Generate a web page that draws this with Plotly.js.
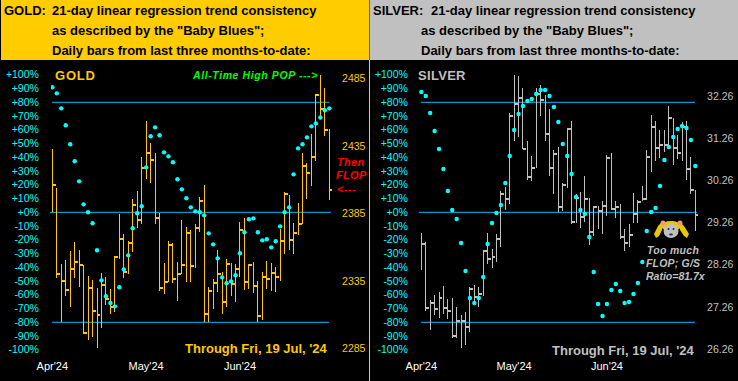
<!DOCTYPE html>
<html><head><meta charset="utf-8">
<script src="https://cdn.plot.ly/plotly-3.0.1.min.js"></script>
<style>
html,body{margin:0;padding:0;background:#000;overflow:hidden}
#c{width:738px;height:381px}
.scatterlayer .js-line{shape-rendering:crispEdges}
</style></head><body><div id="c"></div>
<script>
const monthTicks=[0,21,42];
const monthLabels=["Apr'24","May'24","Jun'24"];
const pctTicks=[100,90,80,70,60,50,40,30,20,10,0,-10,-20,-30,-40,-50,-60,-70,-80,-90,-100];
const pctLabels=["+100%","+90%","+80%","+70%","+60%","+50%","+40%","+30%","+20%","+10%","+0%","-10%","-20%","-30%","-40%","-50%","-60%","-70%","-80%","-90%","-100%"];
const goldPriceTicks=[2485,2435,2385,2335,2285];
const silverPriceTicks=[32.26,31.26,30.26,29.26,28.26,27.26,26.26];
const bandLevels=[80,0,-80];

const goldHigh=[2432.9,2404,2347.8,2350.7,2357.4,2364,2358.1,2347,2338.9,2335.9,2330,2341.1,2338.1,2329.2,2353.7,2384.8,2370,2364.8,2395.9,2401.8,2427,2453.7,2437.4,2430,2385.5,2348.5,2364.8,2363.3,2349.2,2380.3,2375.2,2373,2377.4,2397.4,2406.3,2330.7,2336.6,2358.1,2341.8,2351.5,2348.5,2347.8,2378.9,2381.8,2347.8,2349.2,2335.2,2341.8,2350,2348.5,2345.5,2373.7,2401.1,2398.9,2378.1,2392.9,2430,2422.6,2444,2473.7,2487.7,2478.1,2447.7];
const goldLow=[2386.3,2337.4,2304.8,2324.1,2315.9,2337.4,2330.7,2295.9,2291.5,2293.7,2285.5,2300.3,2317.4,2310.7,2312.2,2351.5,2337.4,2340.3,2356.6,2374.4,2377.4,2410.7,2407.7,2377.4,2327.8,2325.5,2334.4,2333.7,2320.3,2340.3,2334.4,2334.4,2344.8,2371.5,2304.8,2304.8,2314.4,2327,2310.7,2315.9,2324.1,2319.6,2338.1,2328.5,2329.2,2326.3,2304.8,2306.3,2329.2,2327.8,2327,2335.2,2355.2,2358.1,2355.2,2369.2,2377.4,2395.9,2405.5,2424,2456.6,2442.6,2395.2];
const goldClose=[2406.3,2340.3,2335.2,2328.5,2344,2349.2,2347,2296.6,2330,2312.9,2310,2332.2,2321.8,2316,2353,2366.3,2341.8,2363.3,2391.5,2380.3,2418.9,2430,2424.8,2381.8,2330,2334.4,2361.8,2336.6,2340.3,2347,2370.7,2346.3,2374.4,2394.4,2310.7,2327.8,2333.7,2340.3,2319.6,2347.8,2332.9,2344,2373,2334.4,2347,2331.5,2309.2,2338.1,2336.6,2341.1,2338.1,2364.8,2399.6,2365.5,2370.7,2377.4,2420.3,2415.2,2427,2472.9,2462.6,2447,2402.6];
const goldBlues=[90.9,86.5,75.6,63.3,49.5,37.1,22.5,5.8,0,-8,-27.6,-49.5,-61,-66,-68.4,-54.5,-41.5,-31.3,-11.6,-0.7,4.4,32.7,55.3,61.8,56,43.6,40.7,36.4,24,16.7,10.2,3.6,0.7,0,-2.2,-15.3,-23.3,-33.5,-47.3,-51.6,-50.2,-45.8,-29.8,-14.5,-5.1,-4.4,-14.5,-20.4,-19.6,-25.5,-21.1,-10.2,0,3.6,27.6,46.5,49.5,54.5,62.5,64.7,69,74.2,75.6];

const silverHigh=[29.01,28.8,27.43,27.54,27.61,27.76,27.45,27.47,27.26,27.07,27.14,27.73,27.78,27.73,28.61,29.01,28.64,28.99,30.01,30.1,31.86,32.76,32.73,32.45,31.19,30.84,32.45,32.52,32.28,31.95,30.98,31.05,30.2,31.48,31.67,29.94,29.99,30.36,29.84,29.65,29.65,29.77,30.86,30.91,29.77,29.7,29.11,29.23,29.96,29.8,30.13,30.98,31.81,31.67,31.45,31.45,32.02,31.74,31.34,31.64,31.67,30.81,30.03];
const silverLow=[28.14,27.17,26.71,27.07,27,27.09,26.97,26.52,26.52,26.29,26.36,26.67,27.31,27.26,27.52,28.28,28.18,28.33,28.68,29.56,29.7,31.19,31.29,31,30.27,30.25,30.55,31.79,31.19,30.36,29.94,29.51,29.53,30.08,29.23,29.25,29.13,29.27,28.73,28.94,29.11,28.99,29.42,29.56,29.37,28.87,28.59,28.68,29.25,29.25,29.77,29.8,30.46,30.72,30.79,30.93,31,30.62,30.77,30.72,30.27,29.94,29.06];
const silverClose=[28.75,27.24,27.35,27.21,27.47,27.24,27.17,26.57,26.93,26.93,26.79,27.69,27.5,27.57,28.59,28.4,28.44,28.87,29.94,29.82,31.79,32.07,32.21,31,30.34,30.55,32.31,32.17,31.36,30.55,30.89,29.63,30.15,31.48,29.27,29.84,29.39,29.82,29.04,29.63,29.53,29.65,30.79,29.58,29.63,28.92,28.78,28.97,29.46,29.75,29.82,30.81,31.53,31.03,31.1,31.1,31.74,31.03,30.91,31.53,30.53,30.03,29.44];
const silverBlues=[87.5,84.6,72.2,59.1,46,31.5,15.5,1.7,-4.9,-22.3,-42.7,-62.3,-66,-62.3,-47.1,-23.1,-7.8,-0.5,5.3,21.3,40.9,59.9,71.5,77.3,80.9,82.4,86,88.9,88.9,84.6,76.6,65.7,49.7,40.9,27.9,11.1,1.7,-1.2,-18,-43.4,-66.7,-75.4,-66.7,-56.5,-52.1,-57.2,-66,-65.2,-59.4,-51.4,-36.1,-13.6,0.2,3.1,19.1,38,47.5,54.8,60.6,62.8,61.3,52.6,33.7];

const W=738,H=381;
const px=x=>x/W, py=y=>1-y/H;
const GOLD='#FFC800',SILVER='#C0C0C0',CYAN='#00FFFF',LINE='#00BFFF';
const TICKLEN=0.78;

function barTraces(high,low,close,color,xa,ya){
  const vx=[],vy=[],tx=[],ty=[];
  high.forEach((h,i)=>{
    vx.push(i,i,null);vy.push(low[i],h,null);
    tx.push(i,i+TICKLEN,null);ty.push(close[i],close[i],null);
  });
  return [
    {type:'scatter',mode:'lines',x:vx,y:vy,xaxis:xa,yaxis:ya,line:{color,width:1},hoverinfo:'skip',showlegend:false},
    {type:'scatter',mode:'lines',x:tx,y:ty,xaxis:xa,yaxis:ya,line:{color,width:2},hoverinfo:'skip',showlegend:false}
  ];
}
function dotTrace(vals,xa,ya){
  return {type:'scatter',mode:'markers',x:vals.map((_,i)=>i),y:vals,xaxis:xa,yaxis:ya,
    marker:{color:CYAN,size:4.4,line:{width:0}},hoverinfo:'skip',showlegend:false};
}
const data=[
  ...barTraces(goldHigh,goldLow,goldClose,GOLD,'x','y'),
  dotTrace(goldBlues,'x','y2'),
  ...barTraces(silverHigh,silverLow,silverClose,SILVER,'x2','y3'),
  dotTrace(silverBlues,'x2','y4')
];

const yDom=[py(349.8),py(74.8)];
const baseY={domain:yDom,showgrid:false,zeroline:false,showline:false,fixedrange:true,tickmode:'array',ticks:'outside',tickcolor:'rgba(0,0,0,0)'};
const baseX={showgrid:false,zeroline:false,showline:false,fixedrange:true,tickmode:'array',tickvals:monthTicks,ticktext:monthLabels,
  ticks:'outside',ticklen:6,tickcolor:'rgba(0,0,0,0)',tickfont:{family:'Liberation Sans',size:11,color:'#FFFFFF'}};
const tf=c=>({family:'Liberation Sans',size:10.5,color:c});

function ann(x,y,text,font,anchor){
  return {xref:'paper',yref:'paper',x:px(x),y:py(y),text,showarrow:false,xanchor:anchor||'left',yanchor:'middle',font,borderpad:0,borderwidth:0};
}
const sp=(t,s)=>`<span style="letter-spacing:${s}px">${t}</span>`;
const bannerFont={family:'Liberation Sans',size:13,color:'#000000',weight:700};
const gB={family:'Liberation Sans',size:13,color:GOLD,weight:700};
const sB={family:'Liberation Sans',size:13,color:SILVER,weight:700};
const tG={family:'Liberation Sans',size:13,color:GOLD,weight:700};
const tS={family:'Liberation Sans',size:13,color:SILVER,weight:700};
const green={family:'Liberation Sans',size:10.5,color:'#00FF00',weight:700,style:'italic'};
const red={family:'Liberation Sans',size:11,color:'#FF0000',weight:700,style:'italic'};
const grayI={family:'Liberation Sans',size:10.5,color:SILVER,weight:700,style:'italic'};
const L1='21-day linear regression trend consistency',L2='as described by the "Baby Blues";',L3='Daily bars from last three months-to-date:';
const annotations=[
  ann(4,10.7,'GOLD:',bannerFont),
  ann(52,10.7,L1,bannerFont),
  ann(52,30.7,L2,bannerFont),
  ann(52,50.7,L3,bannerFont),
  ann(373,10.7,'SILVER:',bannerFont),
  ann(431,10.7,L1,bannerFont),
  ann(421,30.7,L2,bannerFont),
  ann(421,50.7,L3,bannerFont),
  ann(54.5,76,sp('GOLD',0.8),gB),
  ann(418.5,76,sp('SILVER',0.3),sB),
  ann(192,75,sp('All-Time High POP --->',0.6),green),
  ann(185,348,"Through Fri, 19 Jul, '24",tG),
  ann(552,350,"Through Fri, 19 Jul, '24",tS),
  ann(337,162,sp('Then',0.3),red),
  ann(336,175,sp('FLOP',0.3),red),
  ann(337,189,sp('<---',0.6),{...red,size:10.5}),
  ann(647,250,sp('Too much',0.3),grayI),
  ann(646,262.5,sp('FLOP; G/S',0.2),grayI),
  ann(646,276,'Ratio=81.7x',grayI)
];

const paperShape=(o)=>({xref:'paper',yref:'paper',layer:'below',line:{width:0},...o});
const rect=(x0,y0,x1,y1,fill)=>paperShape({type:'rect',x0:px(x0),x1:px(x1),y0:py(y0),y1:py(y1),fillcolor:fill});
const circ=(cx,cy,rx,ry,fill)=>({xref:'paper',yref:'paper',layer:'above',type:'circle',x0:px(cx-rx),x1:px(cx+rx),y0:py(cy+ry),y1:py(cy-ry),fillcolor:fill,line:{width:0}});
function poly(pts,fill){
  const d=pts.map((p,i)=>(i?'L':'M')+px(p[0]).toFixed(5)+','+py(p[1]).toFixed(5)).join(' ')+' Z';
  return {xref:'paper',yref:'paper',layer:'above',type:'path',path:d,fillcolor:fill,line:{width:0}};
}
const hline=(lv,x0,x1,yr)=>({type:'line',xref:'paper',yref:yr,x0:px(x0),x1:px(x1),y0:lv,y1:lv,layer:'below',line:{color:LINE,width:1}});
const shapes=[
  rect(1,0,369,60,'#FFCC00'),
  rect(369.5,0,738,60,'#C0C0C0'),
  rect(369,60,370,381,'#C8C8C8'),
  ...bandLevels.map(l=>l===0?hline(l,50,331,'y2'):hline(l,52,329,'y2')),
  ...bandLevels.map(l=>l===0?hline(l,419,697,'y4'):hline(l,421,695,'y4')),
  poly([[662,222],[658,226],[654,234],[656,238],[659,236],[662,230]],'#E8C800'),
  poly([[680,222],[684,226],[689,234],[687,238],[684,236],[680,230]],'#E8C800'),
  circ(671,226,10,5,'#E8C800'),
  circ(671,231,7.5,7,'#C0C0C0'),
  circ(663,223,2.5,2.5,'#FF9090'),
  circ(680,223,2.5,2.5,'#FF9090'),
  circ(668.5,229,1,1,'#303030'),
  circ(673.5,229,1,1,'#303030'),
  circ(671,234.5,2,1,'#303030')
];

const layout={
  width:W,height:H,margin:{l:0,r:0,t:0,b:0,pad:0},paper_bgcolor:'#000',plot_bgcolor:'#000',showlegend:false,
  font:{family:'Liberation Sans'},
  xaxis:{...baseX,domain:[px(51),px(332)],range:[-0.298,62.6],anchor:'y'},
  xaxis2:{...baseX,domain:[px(418),px(698)],range:[-0.753,62.6],anchor:'y3'},
  yaxis:{...baseY,anchor:'x',side:'right',range:[2284.2,2487.9],tickvals:goldPriceTicks,ticktext:goldPriceTicks.map(String),tickfont:tf(GOLD),ticklen:7},
  yaxis2:{...baseY,anchor:'x',overlaying:'y',side:'left',range:[-100,100],tickvals:pctTicks,ticktext:pctLabels,tickfont:tf(CYAN),ticklen:9},
  yaxis3:{...baseY,anchor:'x2',side:'right',range:[26.245,32.76],tickvals:silverPriceTicks,ticktext:silverPriceTicks.map(v=>v.toFixed(2)),tickfont:tf(SILVER),ticklen:6},
  yaxis4:{...baseY,anchor:'x2',overlaying:'y3',side:'left',range:[-100,100],tickvals:pctTicks,ticktext:pctLabels,tickfont:tf(CYAN),ticklen:7},
  shapes,annotations
};
Plotly.newPlot('c',data,layout,{staticPlot:true,displayModeBar:false});
</script></body></html>
